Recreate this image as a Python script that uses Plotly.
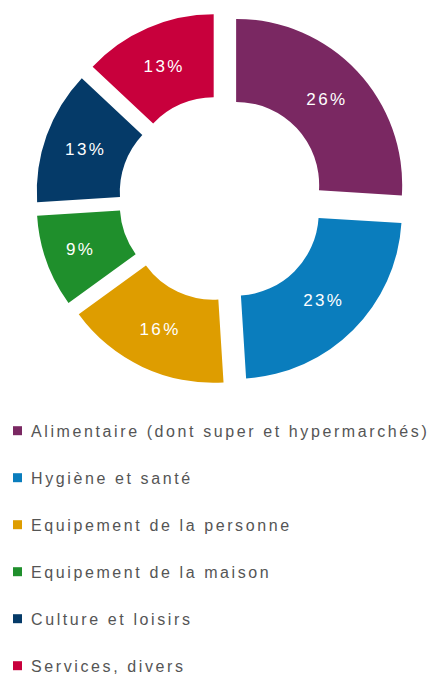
import plotly.graph_objects as go

# ---- data ----
labels = [
    "Alimentaire (dont super et hypermarchés)",
    "Hygiène et santé",
    "Equipement de la personne",
    "Equipement de la maison",
    "Culture et loisirs",
    "Services, divers",
]
values = [26, 23, 16, 9, 13, 13]
colors = ["#7A2862", "#0A7DBD", "#DE9D00", "#1F8F2C", "#053A68", "#C8003C"]

# ---- layout constants (pixels) ----
W, H = 436, 675
cx, cy, box = 221.6, 198.6, 372.0
row_y0, row_step = 430.7, 47.0
sq_cx, sq_size, text_x = 17.5, 9.0, 28.5
FONT = "Liberation Sans, Arial, Helvetica, sans-serif"

fig = go.Figure()
fig.add_trace(go.Pie(
    labels=labels,
    values=values,
    marker=dict(colors=colors, line=dict(width=0)),
    hole=0.5,
    pull=0.12,
    sort=False,
    direction="clockwise",
    rotation=0,
    texttemplate='<span style="letter-spacing:2.4px">%{value}%</span>',
    textposition="inside",
    insidetextorientation="horizontal",
    textfont=dict(color="white", size=17, family=FONT),
    showlegend=False,
    hoverinfo="label+percent",
    domain=dict(
        x=[(cx - box / 2) / W, (cx + box / 2) / W],
        y=[1 - (cy + box / 2) / H, 1 - (cy - box / 2) / H],
    ),
))

annotations = []
shapes = []
for i, (lab, col) in enumerate(zip(labels, colors)):
    yc = row_y0 + i * row_step
    shapes.append(dict(
        type="rect", xref="paper", yref="paper",
        x0=(sq_cx - sq_size / 2) / W, x1=(sq_cx + sq_size / 2) / W,
        y0=1 - (yc + sq_size / 2) / H, y1=1 - (yc - sq_size / 2) / H,
        fillcolor=col, line=dict(width=0),
    ))
    annotations.append(dict(
        text=f'<span style="letter-spacing:2.6px">{lab}</span>',
        x=text_x / W, y=1 - (yc + 1) / H,
        xref="paper", yref="paper",
        xanchor="left", yanchor="middle",
        showarrow=False,
        font=dict(size=16, color="#555555", family=FONT),
    ))

fig.update_layout(
    width=W, height=H,
    margin=dict(l=0, r=0, t=0, b=0),
    paper_bgcolor="white",
    plot_bgcolor="white",
    annotations=annotations,
    shapes=shapes,
)

fig.write_html(
    "out.html",
    config={"displayModeBar": False},
    post_script="document.body.style.margin='0';document.body.style.overflow='hidden';",
)
